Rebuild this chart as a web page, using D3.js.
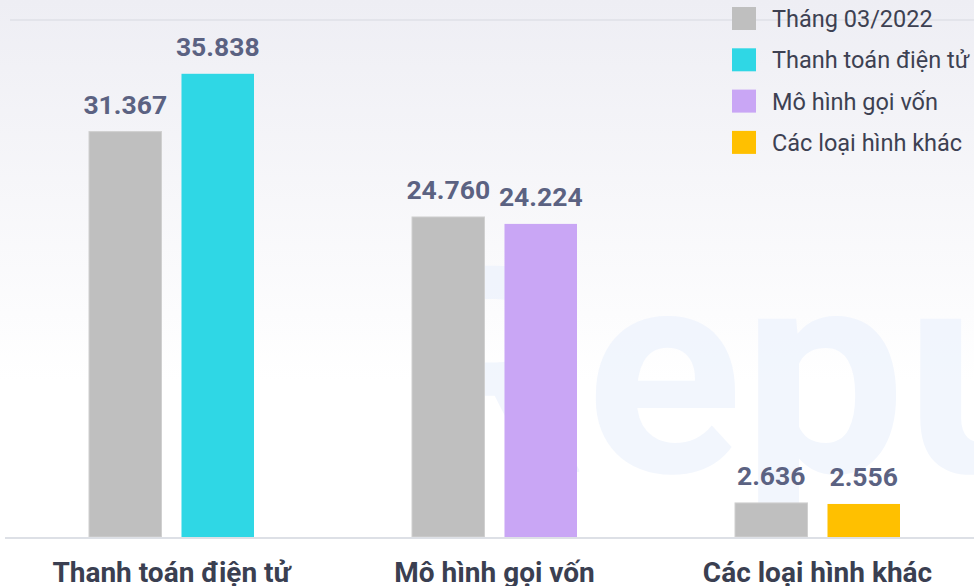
<!DOCTYPE html>
<html>
<head>
<meta charset="utf-8">
<script src="https://cdn.jsdelivr.net/npm/d3@7"></script>
<style>
  body { margin: 0; background: #fff; }
  svg { display: block; font-family: Roboto, "Noto Sans", sans-serif; }
</style>
</head>
<body>
<svg id="canvas" width="974" height="586"></svg>
<script>
// data
var categories = ['Thanh toán điện tử', 'Mô hình gọi vốn', 'Các loại hình khác'];
var seriesNames = ['Tháng 03/2022', 'Thanh toán điện tử', 'Mô hình gọi vốn', 'Các loại hình khác'];
var seriesColors = ['#bfbfbf', '#2fd7e5', '#c9a6f5', '#ffc000'];
var prevValues = [31.367, 24.760, 2.636];   // Tháng 03/2022
var currValues = [35.838, 24.224, 2.556];   // each category's own series
var labelFmt = function(v) { return v.toFixed(3); };

var W = 974, H = 586;
var svg = d3.select('#canvas');

// background gradient
var defs = svg.append('defs');
var grad = defs.append('linearGradient').attr('id', 'bg').attr('x1', 0).attr('y1', 0).attr('x2', 0).attr('y2', 1);
grad.append('stop').attr('offset', '0%').attr('stop-color', '#eeeef4');
grad.append('stop').attr('offset', '65%').attr('stop-color', '#ffffff');
grad.append('stop').attr('offset', '100%').attr('stop-color', '#ffffff');
svg.append('rect').attr('width', W).attr('height', H).attr('fill', 'url(#bg)');

// watermark
svg.append('text')
  .attr('x', 400).attr('y', 472)
  .attr('font-size', 290).attr('font-weight', 700)
  .attr('fill', '#eaf1fd').attr('opacity', 0.6)
  .text('Reputa');

// scales
var x0 = d3.scaleBand().domain(categories).range([10, 979]).padding(0);
var x1 = d3.scaleBand().domain([0, 1]).range([0, 165]).paddingInner(0.216);
var y = d3.scaleLinear().domain([0, 40]).range([537, 20]);

// top grid line
svg.append('line')
  .attr('x1', 10).attr('x2', W).attr('y1', y(40)).attr('y2', y(40))
  .attr('stroke', '#dfe1e7').attr('stroke-width', 1.5);

var rows = categories.map(function(c, i) {
  return [
    { cat: c, s: 0, v: prevValues[i] },
    { cat: c, s: i + 1, v: currValues[i] }
  ];
});

var groups = svg.selectAll('g.grp').data(rows).enter().append('g')
  .attr('class', 'grp')
  .attr('transform', function(d) { return 'translate(' + (x0(d[0].cat) + x0.bandwidth() / 2 - 82.5) + ',0)'; });

groups.selectAll('rect').data(function(d) { return d; }).enter().append('rect')
  .attr('x', function(d, i) { return x1(i); })
  .attr('width', x1.bandwidth())
  .attr('y', function(d) { return y(d.v); })
  .attr('height', function(d) { return y(0) - y(d.v); })
  .attr('fill', function(d) { return seriesColors[d.s]; })
  .attr('stroke', function(d) { return d.s === 0 ? '#d0d0d0' : 'none'; })
  .attr('stroke-width', 1);

groups.selectAll('text').data(function(d) { return d; }).enter().append('text')
  .attr('x', function(d, i) { return x1(i) + x1.bandwidth() / 2; })
  .attr('y', function(d) { return y(d.v) - 18; })
  .attr('text-anchor', 'middle')
  .attr('font-size', 26.5).attr('font-weight', 700)
  .attr('fill', '#5b6282')
  .text(function(d) { return labelFmt(d.v); });

// baseline
svg.append('line')
  .attr('x1', 5).attr('x2', W).attr('y1', y(0) + 1).attr('y2', y(0) + 1)
  .attr('stroke', '#dde0e6').attr('stroke-width', 2);

// category labels
svg.selectAll('text.cat').data(categories).enter().append('text')
  .attr('class', 'cat')
  .attr('x', function(d) { return x0(d) + x0.bandwidth() / 2; })
  .attr('y', 582)
  .attr('text-anchor', 'middle')
  .attr('font-size', 28).attr('font-weight', 700)
  .attr('fill', '#3a3f51')
  .text(function(d) { return d; });

// legend
var legend = svg.selectAll('g.leg').data(seriesNames).enter().append('g')
  .attr('class', 'leg')
  .attr('transform', function(d, i) { return 'translate(732,' + (7 + i * 41.3) + ')'; });
legend.append('rect')
  .attr('width', 24).attr('height', 23)
  .attr('fill', function(d, i) { return seriesColors[i]; });
legend.append('text')
  .attr('x', 40).attr('y', 20)
  .attr('font-size', 23.5)
  .attr('fill', '#3d4152')
  .text(function(d) { return d; });
</script>
</body>
</html>
